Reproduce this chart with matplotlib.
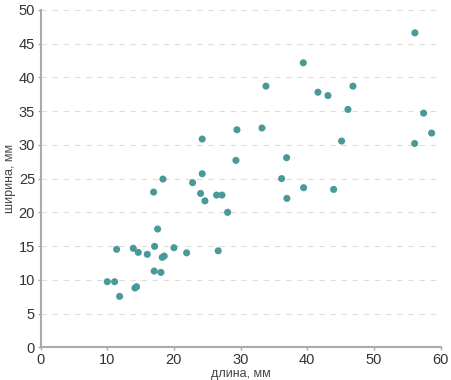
import matplotlib.pyplot as plt

# длина (mm) and ширина (mm)
length = [10.0, 11.1, 11.85, 14.15, 14.4, 11.4, 13.9, 14.65, 16.0, 17.1,
          17.55, 17.04, 18.05, 18.24, 18.54, 20.0, 21.9, 26.64, 16.95, 18.35,
          22.8, 24.0, 24.65, 26.4, 27.2, 28.05, 24.24, 24.24, 56.14, 39.4,
          33.8, 41.6, 43.1, 46.85, 46.1, 57.45, 58.65, 56.1, 45.15, 29.45,
          33.2, 29.3, 36.9, 36.15, 39.45, 43.95, 36.94]
width = [9.72, 9.72, 7.55, 8.79, 8.98, 14.52, 14.67, 14.07, 13.78, 14.96,
         17.53, 11.3, 11.1, 13.33, 13.52, 14.76, 14.0, 14.3, 23.0, 24.93,
         24.4, 22.8, 21.7, 22.56, 22.56, 20.0, 30.86, 25.72, 46.6, 42.16,
         38.7, 37.8, 37.3, 38.7, 35.25, 34.7, 31.75, 30.2, 30.56, 32.24,
         32.5, 27.7, 28.1, 25.0, 23.65, 23.4, 22.07]

plt.rcParams['font.family'] = ['Liberation Sans', 'DejaVu Sans']

fig = plt.figure(figsize=(4.51, 3.80), dpi=100)
ax = fig.add_axes([0.090, 0.086, 0.887, 0.888])

ax.scatter(length, width, s=26, color='#4a9999', edgecolors='none', zorder=3)

ax.set_xlim(0, 60)
ax.set_ylim(0, 50)
ax.set_xticks(range(0, 61, 10))
ax.set_yticks(range(0, 51, 5))

ax.grid(axis='y', color='#dddddd', linestyle=(0, (5, 5)), linewidth=0.8)
ax.grid(axis='x', visible=False)
ax.set_axisbelow(True)

for side in ['top', 'right']:
    ax.spines[side].set_visible(False)
for side in ['left', 'bottom']:
    ax.spines[side].set_color('#aaaaaa')
    ax.spines[side].set_linewidth(1.5)

ax.tick_params(colors='#aaaaaa', labelcolor='#333333', labelsize=10.5, length=2, width=1, pad=2)

ax.set_xlabel('длина, мм', fontsize=9, color='#444444', labelpad=1)
ax.set_ylabel('ширина, мм', fontsize=9, color='#444444', labelpad=2)

fig.savefig('out.png', dpi=100)
